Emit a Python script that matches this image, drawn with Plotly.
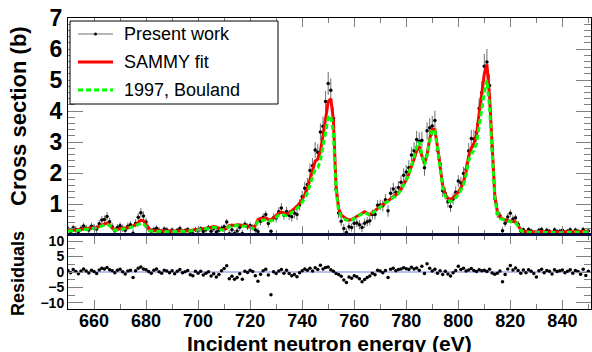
import plotly.graph_objects as go

# Incident neutron energy grid (eV)
energy = list(range(650, 851))

# SAMMY fit (b)
sammy_fit = [
    0.15, 0.14, 0.15, 0.16, 0.17, 0.17, 0.18, 0.19, 0.20, 0.21,
    0.23, 0.25, 0.28, 0.32, 0.37, 0.39, 0.33, 0.22, 0.17, 0.18,
    0.20, 0.21, 0.22, 0.24, 0.26, 0.29, 0.33, 0.40, 0.48, 0.46,
    0.33, 0.20, 0.15, 0.13, 0.13, 0.14, 0.13, 0.14, 0.13, 0.12,
    0.13, 0.12, 0.13, 0.14, 0.13, 0.13, 0.14, 0.15, 0.15, 0.16,
    0.17, 0.18, 0.19, 0.21, 0.23, 0.25, 0.27, 0.26, 0.22, 0.18,
    0.17, 0.22, 0.30, 0.32, 0.31, 0.33, 0.32, 0.31, 0.32, 0.29,
    0.25, 0.23, 0.30, 0.50, 0.54, 0.52, 0.55, 0.50, 0.49, 0.55,
    0.62, 0.70, 0.74, 0.70, 0.67, 0.72, 0.78, 0.85, 0.93, 1.02,
    1.15, 1.30, 1.50, 1.80, 2.15, 2.38, 2.45, 2.70, 3.20, 3.80,
    4.30, 4.40, 3.70, 1.60, 0.85, 0.65, 0.57, 0.52, 0.48, 0.50,
    0.55, 0.60, 0.66, 0.72, 0.75, 0.70, 0.66, 0.72, 0.80, 0.86,
    0.92, 0.98, 1.05, 1.12, 1.18, 1.24, 1.30, 1.36, 1.48, 1.62,
    1.78, 1.98, 2.20, 2.45, 2.72, 2.85, 2.55, 2.30, 2.60, 3.10,
    3.42, 3.40, 2.85, 2.20, 1.60, 1.30, 1.18, 1.15, 1.20, 1.28,
    1.38, 1.52, 1.72, 2.05, 2.55, 2.80, 2.95, 3.25, 3.85, 4.45,
    5.20, 5.50, 4.50, 2.90, 1.30, 0.75, 0.58, 0.52, 0.48, 0.46,
    0.45, 0.44, 0.42, 0.30, 0.17, 0.12, 0.11, 0.12, 0.11, 0.10,
    0.11, 0.12, 0.11, 0.10, 0.11, 0.10, 0.10, 0.11, 0.10, 0.09,
    0.10, 0.11, 0.10, 0.11, 0.10, 0.12, 0.11, 0.10, 0.11, 0.12, 0.11,
]

# 1997 Bouland evaluation (b)
bouland_1997 = [
    0.13, 0.12, 0.13, 0.14, 0.15, 0.15, 0.16, 0.17, 0.18, 0.19,
    0.21, 0.23, 0.26, 0.29, 0.33, 0.35, 0.30, 0.20, 0.15, 0.16,
    0.18, 0.19, 0.20, 0.22, 0.24, 0.26, 0.29, 0.34, 0.38, 0.36,
    0.26, 0.16, 0.12, 0.11, 0.11, 0.12, 0.11, 0.12, 0.11, 0.10,
    0.11, 0.10, 0.11, 0.12, 0.11, 0.11, 0.12, 0.13, 0.13, 0.14,
    0.15, 0.16, 0.17, 0.19, 0.21, 0.23, 0.25, 0.24, 0.20, 0.16,
    0.15, 0.20, 0.28, 0.30, 0.29, 0.31, 0.30, 0.29, 0.30, 0.27,
    0.23, 0.21, 0.27, 0.45, 0.49, 0.47, 0.50, 0.46, 0.45, 0.50,
    0.57, 0.64, 0.68, 0.64, 0.62, 0.66, 0.72, 0.78, 0.86, 0.94,
    1.05, 1.18, 1.36, 1.62, 1.92, 2.12, 2.18, 2.40, 2.85, 3.35,
    3.78, 3.85, 3.30, 1.45, 0.78, 0.60, 0.52, 0.48, 0.46, 0.48,
    0.53, 0.58, 0.64, 0.70, 0.73, 0.68, 0.64, 0.70, 0.78, 0.84,
    0.90, 0.96, 1.03, 1.10, 1.16, 1.22, 1.28, 1.34, 1.46, 1.60,
    1.76, 1.98, 2.22, 2.50, 2.85, 3.00, 2.60, 2.25, 2.55, 3.05,
    3.40, 3.38, 2.80, 2.15, 1.55, 1.25, 1.12, 1.08, 1.12, 1.20,
    1.30, 1.44, 1.62, 1.95, 2.40, 2.62, 2.72, 2.95, 3.45, 4.05,
    4.60, 5.00, 4.15, 2.65, 1.20, 0.70, 0.55, 0.50, 0.46, 0.44,
    0.43, 0.42, 0.40, 0.28, 0.15, 0.10, 0.09, 0.10, 0.09, 0.08,
    0.09, 0.10, 0.09, 0.08, 0.09, 0.08, 0.08, 0.09, 0.08, 0.07,
    0.08, 0.09, 0.08, 0.09, 0.08, 0.10, 0.09, 0.08, 0.09, 0.10, 0.09,
]

# Measured cross section (b)
present_work = [
    0.20, 0.11, 0.23, 0.18, 0.11, 0.21, 0.29, 0.22, 0.16, 0.28,
    0.25, 0.19, 0.36, 0.48, 0.50, 0.60, 0.43, 0.27, 0.14, 0.24,
    0.30, 0.22, 0.15, 0.28, 0.33, 0.06, 0.38, 0.57, 0.72, 0.61,
    0.42, 0.22, 0.11, 0.18, 0.22, 0.15, 0.09, 0.19, 0.16, 0.10,
    0.16, 0.07, 0.15, 0.21, 0.11, 0.14, 0.18, 0.07, 0.04, 0.18,
    0.13, 0.20, 0.11, 0.17, 0.24, 0.12, 0.21, 0.10, 0.15, 0.22,
    0.27, 0.42, 0.04, 0.17, 0.05, 0.13, 0.25, 0.05, 0.35, 0.27,
    0.31, 0.25, 0.17, 0.11, 0.44, 0.57, 0.66, 0.37, 0.12, 0.56,
    0.55, 0.75, 0.87, 0.64, 0.76, 0.64, 0.59, 0.71, 0.66, 0.97,
    1.23, 1.51, 1.63, 2.08, 2.23, 2.74, 2.67, 3.32, 3.51, 4.31,
    4.89, 4.67, 3.77, 1.48, 0.71, 0.44, 0.21, 0.08, 0.27, 0.24,
    0.38, 0.39, 0.33, 0.24, 0.38, 0.43, 0.46, 0.66, 0.66, 0.96,
    0.97, 0.94, 1.14, 0.78, 1.35, 1.48, 1.38, 1.53, 1.70, 1.93,
    2.03, 2.17, 2.58, 2.72, 3.08, 3.02, 3.06, 2.17, 3.36, 3.46,
    3.52, 3.69, 2.73, 2.30, 1.43, 1.34, 1.07, 0.92, 1.16, 1.38,
    1.74, 1.68, 1.98, 2.12, 2.71, 3.11, 3.10, 3.31, 4.08, 4.59,
    5.44, 5.58, 4.82, 2.82, 1.17, 0.69, 0.62, 0.14, 0.38, 0.58,
    0.70, 0.52, 0.56, 0.35, 0.13, 0.17, 0.09, 0.18, 0.13, 0.06,
    -0.02, 0.15, 0.18, 0.08, 0.15, 0.12, 0.05, 0.17, 0.11, 0.12,
    0.15, 0.09, 0.12, 0.17, 0.07, 0.16, 0.12, 0.04, 0.18, 0.03, 0.13,
]

# Statistical uncertainty of the measurement (b)
uncertainty = [
    0.10, 0.11, 0.10, 0.11, 0.10, 0.11, 0.11, 0.10, 0.11, 0.12,
    0.11, 0.12, 0.12, 0.13, 0.13, 0.14, 0.13, 0.12, 0.11, 0.11,
    0.11, 0.12, 0.11, 0.12, 0.12, 0.13, 0.13, 0.14, 0.15, 0.15,
    0.13, 0.12, 0.10, 0.09, 0.09, 0.10, 0.09, 0.09, 0.10, 0.09,
    0.08, 0.09, 0.08, 0.09, 0.08, 0.09, 0.08, 0.09, 0.09, 0.08,
    0.09, 0.09, 0.08, 0.09, 0.09, 0.10, 0.10, 0.10, 0.09, 0.09,
    0.09, 0.10, 0.12, 0.11, 0.11, 0.11, 0.12, 0.11, 0.11, 0.11,
    0.10, 0.10, 0.11, 0.13, 0.13, 0.13, 0.12, 0.13, 0.05, 0.14,
    0.15, 0.15, 0.16, 0.15, 0.15, 0.16, 0.16, 0.17, 0.18, 0.18,
    0.20, 0.21, 0.22, 0.23, 0.25, 0.26, 0.27, 0.28, 0.31, 0.34,
    0.37, 0.38, 0.34, 0.24, 0.17, 0.15, 0.14, 0.13, 0.13, 0.13,
    0.14, 0.14, 0.15, 0.15, 0.15, 0.15, 0.15, 0.16, 0.16, 0.17,
    0.17, 0.18, 0.18, 0.19, 0.19, 0.20, 0.20, 0.21, 0.22, 0.22,
    0.23, 0.24, 0.25, 0.27, 0.28, 0.29, 0.27, 0.26, 0.28, 0.30,
    0.32, 0.32, 0.29, 0.25, 0.21, 0.19, 0.18, 0.18, 0.18, 0.19,
    0.19, 0.20, 0.22, 0.24, 0.26, 0.28, 0.29, 0.30, 0.33, 0.36,
    0.40, 0.42, 0.36, 0.28, 0.18, 0.14, 0.13, 0.12, 0.12, 0.12,
    0.12, 0.12, 0.11, 0.10, 0.09, 0.08, 0.08, 0.08, 0.08, 0.08,
    0.08, 0.08, 0.08, 0.08, 0.08, 0.08, 0.08, 0.08, 0.08, 0.08,
    0.08, 0.08, 0.08, 0.08, 0.08, 0.08, 0.08, 0.08, 0.08, 0.08, 0.08,
]

# Normalised residuals of the measurement with respect to the SAMMY fit
residuals = [(d - f) / e for d, f, e in zip(present_work, sammy_fit, uncertainty)]

W, H = 592, 352
FONT = "Liberation Sans"


def px(x):
    return x / W


def py(y):
    return 1 - y / H


x_dom = [px(68), px(591)]
top_dom = [py(235), py(18)]
bot_dom = [py(309), py(235)]

fig = go.Figure()

fig.add_trace(go.Scatter(
    x=energy, y=present_work, mode="markers", name="Present work",
    marker=dict(color="black", size=3.5, symbol="circle"),
    error_y=dict(type="data", array=uncertainty, color="#707070", thickness=1, width=0),
    xaxis="x", yaxis="y", showlegend=False,
))
fig.add_trace(go.Scatter(
    x=energy, y=sammy_fit, mode="lines", name="SAMMY fit",
    line=dict(color="#ff0000", width=3),
    xaxis="x", yaxis="y", showlegend=False,
))
fig.add_trace(go.Scatter(
    x=energy, y=bouland_1997, mode="lines", name="1997, Bouland",
    line=dict(color="#00ff00", width=3, dash="5px,3px"),
    xaxis="x", yaxis="y", showlegend=False,
))
fig.add_trace(go.Scatter(
    x=energy, y=residuals, mode="markers", name="Residuals",
    marker=dict(color="black", size=3.5),
    xaxis="x2", yaxis="y2", showlegend=False,
))

tick_common = dict(
    ticks="inside", tickcolor="#808080", showline=True, linecolor="black",
    linewidth=1, mirror="ticks", showgrid=False, zeroline=False,
    automargin=False,
)

fig.update_layout(
    template="none",
    width=W, height=H, autosize=False,
    margin=dict(l=0, r=0, t=0, b=0),
    paper_bgcolor="white", plot_bgcolor="white",
    font=dict(family=FONT, color="black"),
    showlegend=False,
    xaxis=dict(
        domain=x_dom, anchor="y", range=[650, 851], dtick=20, tick0=0,
        showticklabels=False, ticklen=9,
        minor=dict(ticks="inside", dtick=10, ticklen=5, tickcolor="#808080"),
        **tick_common,
    ),
    yaxis=dict(
        domain=top_dom, anchor="x", range=[0, 7], tickvals=[1, 2, 3, 4, 5, 6, 7],
        ticklen=15, tickfont=dict(size=23, family=FONT, weight="bold"),
        minor=dict(ticks="inside", dtick=0.2, ticklen=7, tickcolor="#808080"),
        **tick_common,
    ),
    xaxis2=dict(
        domain=x_dom, anchor="y2", range=[650, 851], dtick=20, tick0=0,
        ticklen=9, tickfont=dict(size=18, family=FONT, weight="bold"),
        ticklabelstandoff=-5,
        minor=dict(ticks="inside", dtick=10, ticklen=5, tickcolor="#808080"),
        **tick_common,
    ),
    yaxis2=dict(
        domain=bot_dom, anchor="x2", range=[-12, 12], tickvals=[-10, -5, 0, 5, 10],
        ticklen=15, tickfont=dict(size=14, family=FONT, weight="bold"),
        minor=dict(ticks="inside", dtick=2.5, ticklen=7, tickcolor="#808080"),
        **tick_common,
    ),
)

shapes = [
    # zero reference for the residuals
    dict(type="line", xref="x2", yref="y2", x0=650, x1=851, y0=0, y1=0,
         line=dict(color="#b8c0ec", width=2), layer="below"),
    # heavy separator between the panels
    dict(type="line", xref="paper", yref="paper", x0=px(68), x1=px(591),
         y0=py(234.5), y1=py(234.5), line=dict(color="#0c0c3c", width=3)),
    # legend frame
    dict(type="rect", xref="paper", yref="paper", x0=px(70), x1=px(278),
         y0=py(104), y1=py(21), line=dict(color="black", width=1),
         fillcolor="white"),
    # legend samples
    dict(type="line", xref="paper", yref="paper", x0=px(78), x1=px(113),
         y0=py(34), y1=py(34), line=dict(color="#707070", width=1)),
    dict(type="circle", xref="paper", yref="paper", x0=px(94), x1=px(97),
         y0=py(35.5), y1=py(32.5), fillcolor="black", line=dict(color="black", width=0)),
    dict(type="line", xref="paper", yref="paper", x0=px(78), x1=px(113),
         y0=py(62), y1=py(62), line=dict(color="#ff0000", width=3)),
    dict(type="line", xref="paper", yref="paper", x0=px(78), x1=px(113),
         y0=py(90), y1=py(90), line=dict(color="#00ff00", width=3, dash="5px,3px")),
]
fig.update_layout(shapes=shapes)

annotations = []
for label, yc in [("Present work", 34), ("SAMMY fit", 62), ("1997, Bouland", 90)]:
    annotations.append(dict(
        text=label, xref="paper", yref="paper", x=px(122), y=py(yc),
        xanchor="left", yanchor="middle", showarrow=False,
        font=dict(size=18, family=FONT, color="black"),
    ))
annotations += [
    dict(text="Cross section (b)", xref="paper", yref="paper", x=px(18), y=py(116),
         xanchor="center", yanchor="middle", textangle=-90, showarrow=False,
         font=dict(size=22, family=FONT, weight="bold")),
    dict(text="Residuals", xref="paper", yref="paper", x=px(18), y=py(274),
         xanchor="center", yanchor="middle", textangle=-90, showarrow=False,
         font=dict(size=18, family=FONT, weight="bold")),
    dict(text="Incident neutron energy (eV)", xref="paper", yref="paper",
         x=px(329.5), y=py(343), xanchor="center", yanchor="middle", showarrow=False,
         font=dict(size=21, family=FONT, weight="bold")),
]
fig.update_layout(annotations=annotations)

fig.write_html("out.html")
